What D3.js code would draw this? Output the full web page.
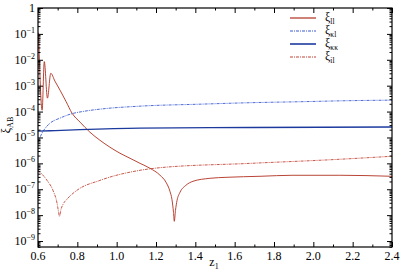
<!DOCTYPE html>
<html>
<head>
<meta charset="utf-8">
<script src="https://cdn.jsdelivr.net/npm/d3@7"></script>
<style>
  body { margin: 0; background: #fff; }
  svg text { font-family: "Liberation Serif", "DejaVu Serif", serif; fill: #000; }
</style>
</head>
<body>
<div id="chart"></div>
<script>
// Data
var zLL = [0.603, 0.621, 0.632, 0.648, 0.665, 0.686, 0.712, 0.742, 0.773, 0.814, 0.864, 0.915, 0.966, 1.017, 1.068, 1.119, 1.169, 1.220, 1.251, 1.271, 1.281, 1.289, 1.293, 1.299, 1.307, 1.322, 1.352, 1.388, 1.474, 1.561, 1.729, 1.896, 2.135, 2.400];
var xiLL = [1.1e-1, 1.13e-4, 8.5e-3, 3.3e-4, 3.0e-3, 1.5e-3, 6.7e-4, 2.5e-4, 8.7e-5, 3.9e-5, 1.6e-5, 7.8e-6, 4.2e-6, 2.46e-6, 1.57e-6, 1.0e-6, 6.5e-7, 3.5e-7, 1.86e-7, 8.3e-8, 4.1e-8, 1.28e-8, 5.8e-9, 1.53e-8, 3.7e-8, 7.6e-8, 1.42e-7, 2.03e-7, 2.65e-7, 2.9e-7, 3.17e-7, 3.47e-7, 3.47e-7, 3.17e-7];

var zIL = [0.600, 0.646, 0.676, 0.697, 0.704, 0.709, 0.717, 0.727, 0.747, 0.798, 0.915, 1.119, 1.220, 1.678, 2.135, 2.400];
var xiIL = [5.4e-7, 2.2e-7, 9.1e-8, 2.86e-8, 1.4e-8, 9.0e-9, 1.67e-8, 2.6e-8, 4.1e-8, 9.1e-8, 2.2e-7, 5.4e-7, 6.8e-7, 1.0e-6, 1.44e-6, 1.88e-6];

var zKK = [0.600, 0.661, 0.814, 1.119, 1.678, 2.400];
var xiKK = [1.75e-5, 1.82e-5, 2.0e-5, 2.28e-5, 2.43e-5, 2.54e-5];

var zKL = [0.600, 0.620, 0.641, 0.661, 0.712, 0.763, 0.839, 0.915, 1.119, 1.424, 1.678, 1.932, 2.186, 2.400];
var xiKL = [6.5e-6, 1.46e-5, 2.5e-5, 3.56e-5, 5.6e-5, 7.9e-5, 1.04e-4, 1.24e-4, 1.62e-4, 1.93e-4, 2.2e-4, 2.4e-4, 2.64e-4, 2.76e-4];

var xTicks = [0.6, 0.8, 1.0, 1.2, 1.4, 1.6, 1.8, 2.0, 2.2, 2.4];
var yExponents = [0, -1, -2, -3, -4, -5, -6, -7, -8, -9];
var legendKeys = ["ll", "κl", "κκ", "il"];

// Dimensions
var width = 407, height = 271;
var margin = { top: 8, right: 15, bottom: 24, left: 38 };
var plotW = width - margin.left - margin.right;
var plotH = height - margin.top - margin.bottom;

var svg = d3.select("#chart").append("svg")
  .attr("width", width)
  .attr("height", height);

var g = svg.append("g")
  .attr("transform", "translate(" + margin.left + "," + margin.top + ")");

var x = d3.scaleLinear().domain([0.6, 2.4]).range([0, plotW]);
var y = d3.scaleLog().domain([Math.pow(10, -9.23), 1]).range([plotH, 0]);

// Series styles
var series = [
  { key: legendKeys[0], z: zLL, v: xiLL, color: "#b0301f", width: 0.9, dash: null },
  { key: legendKeys[1], z: zKL, v: xiKL, color: "#3a5ad0", width: 0.9, dash: "3,1,1,1" },
  { key: legendKeys[2], z: zKK, v: xiKK, color: "#1c3a9e", width: 1.3, dash: null },
  { key: legendKeys[3], z: zIL, v: xiIL, color: "#c04535", width: 0.9, dash: "3,1,1,1" }
];

g.append("clipPath").attr("id", "clip")
  .append("rect").attr("width", plotW).attr("height", plotH);

var line = d3.line()
  .x(function (d) { return x(d[0]); })
  .y(function (d) { return y(d[1]); })
  .curve(d3.curveMonotoneX);

g.append("g").attr("clip-path", "url(#clip)")
  .selectAll("path")
  .data(series)
  .enter().append("path")
  .attr("fill", "none")
  .attr("stroke", function (d) { return d.color; })
  .attr("stroke-width", function (d) { return d.width; })
  .attr("stroke-dasharray", function (d) { return d.dash; })
  .attr("d", function (d) { return line(d.z.map(function (z, i) { return [z, d.v[i]]; })); });

// Minor ticks
var xMinor = d3.range(0.7, 2.4, 0.2);
var yMinor = [];
yExponents.forEach(function (e) {
  for (var k = 2; k <= 9; k++) {
    var v = k * Math.pow(10, e - 1);
    if (v >= y.domain()[0]) yMinor.push(v);
  }
});

// Axes, ticks pointing inward
function tickAxis(axis, ticks, size) {
  return axis.tickValues(ticks).tickSizeInner(-size).tickSizeOuter(0).tickFormat("");
}

g.append("g").attr("transform", "translate(0," + plotH + ")")
  .call(tickAxis(d3.axisBottom(x), xTicks, 5));
g.append("g").attr("transform", "translate(0," + plotH + ")")
  .call(tickAxis(d3.axisBottom(x), xMinor, 2.5));
g.append("g")
  .call(tickAxis(d3.axisTop(x), xTicks, 5));
g.append("g")
  .call(tickAxis(d3.axisTop(x), xMinor, 2.5));

var yMajor = yExponents.map(function (e) { return Math.pow(10, e); });
g.append("g").call(tickAxis(d3.axisLeft(y), yMajor, 5));
g.append("g").call(tickAxis(d3.axisLeft(y), yMinor, 2.5));
g.append("g").attr("transform", "translate(" + plotW + ",0)")
  .call(tickAxis(d3.axisRight(y), yMajor, 5));
g.append("g").attr("transform", "translate(" + plotW + ",0)")
  .call(tickAxis(d3.axisRight(y), yMinor, 2.5));

g.selectAll(".domain").remove();
g.selectAll(".tick line").attr("stroke", "#000").attr("stroke-width", 1);

// Frame
g.append("rect")
  .attr("width", plotW).attr("height", plotH)
  .attr("fill", "none").attr("stroke", "#000").attr("stroke-width", 1.2);

// X tick labels
g.selectAll(".xlab")
  .data(xTicks)
  .enter().append("text")
  .attr("x", function (d) { return x(d); })
  .attr("y", plotH + 13)
  .attr("text-anchor", "middle")
  .style("font-size", "12px")
  .text(function (d) { return d3.format(".1f")(d); });

// Y tick labels
var ylab = g.selectAll(".ylab")
  .data(yExponents)
  .enter().append("text")
  .attr("x", -3)
  .attr("y", function (d) { return y(Math.pow(10, d)) + 4; })
  .attr("text-anchor", "end")
  .style("font-size", "12px");

ylab.each(function (d) {
  var t = d3.select(this);
  if (d === 0) { t.text("1"); return; }
  t.append("tspan").text("10");
  t.append("tspan").attr("dy", -5).style("font-size", "8px").text("−" + (-d));
});

// Axis titles
var yTitle = svg.append("text")
  .attr("transform", "translate(10,125) rotate(-90)")
  .attr("text-anchor", "middle")
  .style("font-size", "12px");
yTitle.append("tspan").text("ξ");
yTitle.append("tspan").attr("dy", 3).style("font-size", "8px").text("AB");

var xTitle = svg.append("text")
  .attr("x", 214)
  .attr("y", 266)
  .attr("text-anchor", "middle")
  .style("font-size", "12px");
xTitle.append("tspan").text("z");
xTitle.append("tspan").attr("dy", 3).style("font-size", "8px").text("1");

// Legend
var legend = svg.selectAll(".legend")
  .data(series)
  .enter().append("g")
  .attr("transform", function (d, i) { return "translate(290," + (18 + i * 13) + ")"; });

legend.append("line")
  .attr("x1", 0).attr("x2", 26)
  .attr("stroke", function (d) { return d.color; })
  .attr("stroke-width", function (d) { return d.width + 0.3; })
  .attr("stroke-dasharray", function (d) { return d.dash; });

var legText = legend.append("text")
  .attr("x", 35).attr("y", 3)
  .style("font-size", "12px");
legText.append("tspan").text("ξ");
legText.append("tspan").attr("dy", 3).style("font-size", "7.5px").text(function (d) { return d.key; });
</script>
</body>
</html>
